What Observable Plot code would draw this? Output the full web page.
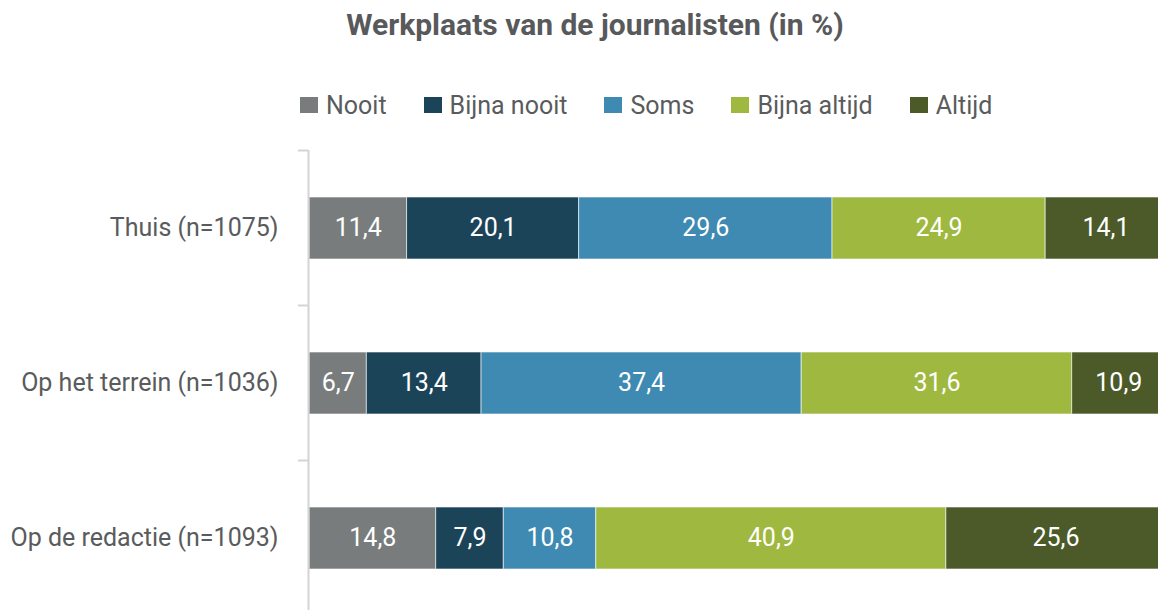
<!DOCTYPE html>
<html>
<head>
<meta charset="utf-8">
<script src="https://cdn.jsdelivr.net/npm/d3@7"></script>
<script src="https://cdn.jsdelivr.net/npm/@observablehq/plot@0.6"></script>
<style>
  html, body { margin: 0; padding: 0; background: #fff; overflow: hidden; width: 1158px; height: 610px; }
  body { font-family: Roboto, "Liberation Sans", sans-serif; color: #595b5c; position: relative; }
  #title { position: absolute; top: 5px; left: 0; width: 1190px; text-align: center; font-size: 30px; font-weight: bold; color: #58595b; line-height: 40px; }
  #legend { position: absolute; top: 88px; left: 300px; display: flex; align-items: center; gap: 37px; height: 34px; font-size: 25px; }
  #legend .item { display: flex; align-items: center; gap: 8px; white-space: nowrap; }
  #legend .sw { width: 18px; height: 16px; display: inline-block; }
  #chart { position: absolute; top: 140px; left: 0; }
</style>
</head>
<body>
<div id="title">Werkplaats van de journalisten (in %)</div>
<div id="legend"></div>
<div id="chart"></div>
<script>
const categories = ["Thuis (n=1075)", "Op het terrein (n=1036)", "Op de redactie (n=1093)"];
const series = ["Nooit", "Bijna nooit", "Soms", "Bijna altijd", "Altijd"];
const colors = ["#797c7d", "#1c4459", "#3e8ab2", "#9fb83f", "#4b5a28"];
const nooit = [11.4, 6.7, 14.8];
const bijnaNooit = [20.1, 13.4, 7.9];
const soms = [29.6, 37.4, 10.8];
const bijnaAltijd = [24.9, 31.6, 40.9];
const altijd = [14.1, 10.9, 25.6];

const seriesValues = [nooit, bijnaNooit, soms, bijnaAltijd, altijd];
const data = [];
series.forEach((s, i) => {
  categories.forEach((c, j) => {
    data.push({ category: c, series: s, value: seriesValues[i][j] });
  });
});

// Legend
const legend = document.getElementById("legend");
series.forEach((s, i) => {
  const item = document.createElement("div");
  item.className = "item";
  const sw = document.createElement("span");
  sw.className = "sw";
  sw.style.background = colors[i];
  const lab = document.createElement("span");
  lab.textContent = s;
  item.appendChild(sw);
  item.appendChild(lab);
  legend.appendChild(item);
});

const fmt = v => v.toFixed(1).replace(".", ",");
const font = 'Roboto, "Liberation Sans", sans-serif';

const chart = Plot.plot({
  width: 1158,
  height: 470,
  marginLeft: 309,
  marginRight: -7,
  marginTop: 10,
  marginBottom: 0,
  style: { fontFamily: font, fontSize: "25px", color: "#595b5c", background: "#fff", overflow: "hidden" },
  x: { domain: [0, 100], axis: null },
  y: { domain: categories, range: [10, 475], padding: 0, label: null },
  color: { domain: series, range: colors },
  marks: [
    Plot.barX(data, Plot.stackX({
      x: "value", y: "category", z: "series", fill: "series",
      order: series,
      insetTop: 47, insetBottom: 46,
      stroke: "#ffffff", strokeOpacity: 0.6, strokeWidth: 1
    })),
    Plot.text(data, Plot.stackX({
      x: "value", y: "category", z: "series",
      order: series,
      text: d => fmt(d.value),
      fill: "#ffffff", fontSize: 25
    })),
    Plot.axisY({ tickSize: 0, tickPadding: 31, fontSize: 25, fill: "#595b5c" }),
    Plot.axisY({ tickSize: 10, text: null, dy: -77.5, dx: -1, stroke: "#d4d4d4", strokeWidth: 2 }),
    Plot.ruleX([0], { dx: -1, stroke: "#d4d4d4", strokeWidth: 2 })
  ]
});
document.getElementById("chart").appendChild(chart);
</script>
</body>
</html>
